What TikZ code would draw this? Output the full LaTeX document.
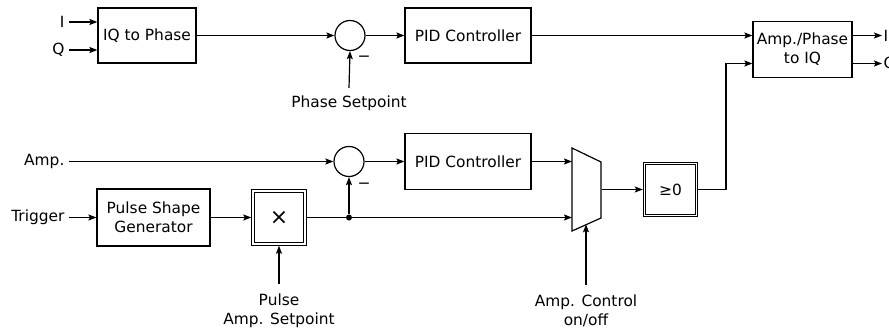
\documentclass[tikz,border=0pt]{standalone}
\usepackage{fontspec}
\setmainfont{DejaVu Sans}
\usetikzlibrary{arrows.meta}
\begin{document}
\begin{tikzpicture}[x=1pt,y=-1pt,
  font=\fontsize{15.4}{19}\selectfont,
  line width=1.2pt,
  blk/.style={draw, rectangle, align=center, inner sep=0pt},
  dblk/.style={draw, double, double distance=1.6pt, line width=0.9pt, rectangle, inner sep=0pt, outer sep=1.7pt},
  sumc/.style={draw, circle, minimum size=30pt, inner sep=0pt},
  lbl/.style={inner sep=1pt, align=center},
  arr/.style={-{Stealth[length=8pt,width=6pt,inset=1.5pt]}},
]
\useasboundingbox (0,0) rectangle (889,332);
% top row
\node[blk, minimum width=98pt, minimum height=55pt] (iq) at (147,35.5) {IQ to Phase};
\node[sumc] (s1) at (350,35.5) {};
\node[blk, minimum width=126pt, minimum height=55pt] (pid1) at (468,35.5) {PID Controller};
\node[blk, minimum width=99pt, minimum height=56pt] (ap) at (802.5,49.5) {Amp./Phase\\to IQ};
\node[lbl, anchor=east] (inI) at (66,22) {I};
\node[lbl, anchor=east] (inQ) at (66,50) {Q};
\node[lbl, anchor=west] (oI) at (882,35.5) {I};
\node[lbl, anchor=west] (oQ) at (882,63.5) {Q};
\node[lbl] (ps) at (349,103) {Phase Setpoint};
\node[lbl] (m1) at (364,59) {−};
\draw[arr] ([xshift=3pt]inI.east) -- (inI.east -| iq.west);
\draw[arr] ([xshift=3pt]inQ.east) -- (inQ.east -| iq.west);
\draw[arr] (iq.east) -- (s1.west);
\draw[arr] (s1.east) -- (pid1.west);
\draw[arr] (pid1.east) -- (pid1.east -| ap.west);
\draw[arr] ([yshift=6pt]ps.north) -- (s1.south);
\draw[arr] (ap.east |- oI) -- (oI.west);
\draw[arr] (ap.east |- oQ) -- (oQ.west);
% bottom rows
\node[lbl, anchor=east] (amp) at (66,161.5) {Amp.};
\node[sumc] (s2) at (349,161.5) {};
\node[blk, minimum width=126pt, minimum height=56pt] (pid2) at (468,161.5) {PID Controller};
\node[lbl, anchor=east] (trig) at (66,217.5) {Trigger};
\node[blk, minimum width=113pt, minimum height=57pt] (psg) at (153.5,217.5) {Pulse Shape\\Generator};
\node[dblk, minimum width=52pt, minimum height=53pt, font=\fontsize{22}{22}\selectfont] (mul) at (279,217.5) {×};
\node[dblk, minimum width=52pt, minimum height=52pt] (geq) at (670.5,189.5) {≥0};
\node[circle, fill, inner sep=0pt, minimum size=6pt] (jn) at (349,217.5) {};
\node[lbl] (m2) at (364,186) {−};
\node[lbl] (pas) at (279,310.5) {Pulse\\Amp. Setpoint};
\node[lbl] (ac) at (586,310.5) {Amp. Control\\on/off};
\coordinate (mtl) at (572,148);
\coordinate (mtr) at (601,162);
\coordinate (mbr) at (601,218);
\coordinate (mbl) at (572,231);
\draw (mtl) -- (mtr) -- (mbr) -- (mbl) -- cycle;
\coordinate (min1) at (572,161.5);
\coordinate (min2) at (572,217.5);
\coordinate (mout) at (602,189.5);
\coordinate (mbot) at (586,224.3);
\coordinate (bend) at (726,189.5);
\draw[arr] ([xshift=3pt]amp.east) -- (s2.west);
\draw[arr] (s2.east) -- (pid2.west);
\draw[arr] (pid2.east) -- (min1);
\draw[arr] ([xshift=3pt]trig.east) -- (psg.west);
\draw[arr] (psg.east) -- (mul.west);
\draw[arr] (mul.east) -- (min2);
\draw[arr] (jn) -- (s2.south);
\draw[arr] (mout) -- (geq.west);
\draw[arr] (geq.east) -- (bend) |- ([yshift=-14pt]ap.west);
\draw[arr] ([yshift=8pt]pas.north) -- (mul.south);
\draw[arr] ([yshift=8pt]ac.north) -- (mbot);
\end{tikzpicture}
\end{document}
